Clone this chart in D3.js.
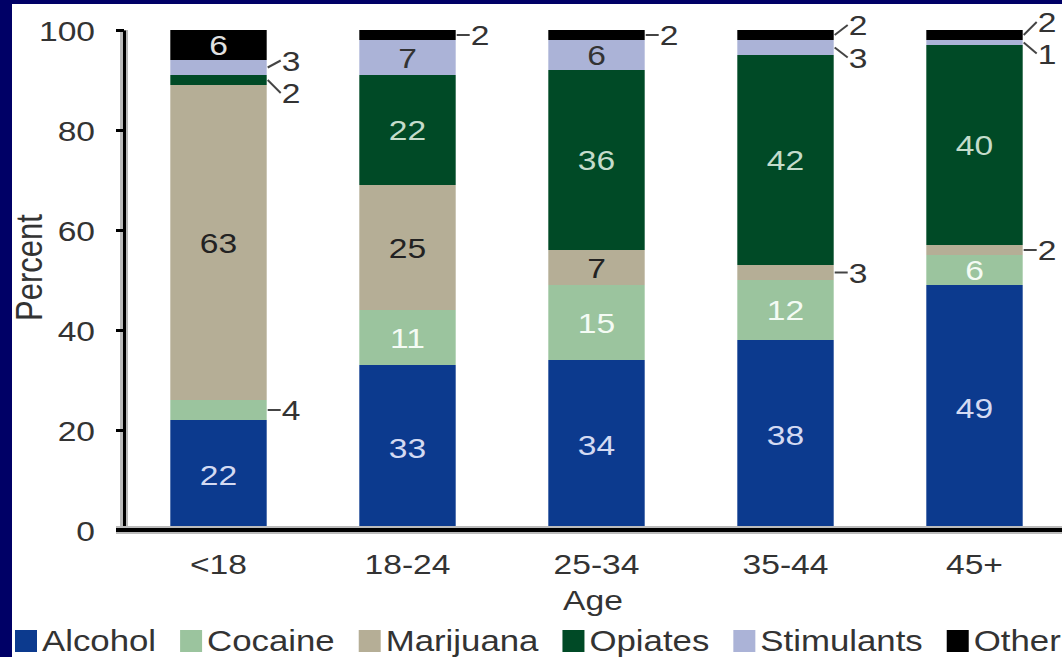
<!DOCTYPE html>
<html lang="en">
<head>
  <meta charset="UTF-8">
  <title>Treatment admissions by age</title>
  <style>
    html, body { margin: 0; padding: 0; background: #000066; }
    svg { display: block; font-family: "Liberation Sans", Arial, sans-serif; }
  </style>
</head>
<body>
  <svg id="chart" width="1062" height="657"></svg>
  <script src="https://d3js.org/d3.v7.min.js"></script>
  <script>
    // data (percent of admissions)
    var ages = ['<18', '18-24', '25-34', '35-44', '45+']
    var series = ['Alcohol', 'Cocaine', 'Marijuana', 'Opiates', 'Stimulants', 'Other']
    var alcohol    = [22, 33, 34, 38, 49]
    var cocaine    = [4, 11, 15, 12, 6]
    var marijuana  = [63, 25, 7, 3, 2]
    var opiates    = [2, 22, 36, 42, 40]
    var stimulants = [3, 7, 6, 3, 1]
    var other      = [6, 2, 2, 2, 2]
    var yTicks = [0, 20, 40, 60, 80, 100]

    var colors = {
      Alcohol: '#0c3a8e', Cocaine: '#9bc49e', Marijuana: '#b5ae96',
      Opiates: '#004a26', Stimulants: '#abb3d7', Other: '#000000'
    }
    var labelColors = {
      Alcohol: '#d4daf2', Cocaine: '#f4fbf4', Marijuana: '#222222',
      Opiates: '#c4dccb', Stimulants: '#333333', Other: '#e0e0e0'
    }
    // vertical nudge of the small call-out labels
    var nudge = {
      '<18|Stimulants': -7, '<18|Opiates': 13,
      '35-44|Other': -10, '35-44|Stimulants': 10,
      '45+|Other': -13, '45+|Stimulants': 11
    }

    var W = 1062, H = 657, SX = 1.2, FS = 28
    var svg = d3.select('#chart')

    svg.append('rect').attr('width', W).attr('height', H).attr('fill', '#000066')
    svg.append('rect').attr('x', 12).attr('y', 4).attr('width', W - 12).attr('height', H - 4).attr('fill', '#ffffff')

    var rows = ages.map(function (a, i) {
      return { age: a, Alcohol: alcohol[i], Cocaine: cocaine[i], Marijuana: marijuana[i],
        Opiates: opiates[i], Stimulants: stimulants[i], Other: other[i] }
    })
    var stacked = d3.stack().keys(series)(rows)

    var x = d3.scaleBand().domain(ages).range([124, 1069]).paddingInner(0.49).paddingOuter(0.245)
    var y = d3.scaleLinear().domain([0, 100]).range([530, 30])

    function sText (parent, tx, ty, str, fill, anchor, size) {
      return parent.append('g')
        .attr('transform', 'translate(' + tx + ',' + ty + ') scale(' + SX + ',1)')
        .append('text')
        .attr('text-anchor', anchor || 'middle')
        .attr('font-size', size || FS)
        .attr('fill', fill || '#333')
        .text(str)
    }

    // bars
    var layers = svg.append('g').selectAll('g.layer')
      .data(stacked).enter().append('g')
      .attr('class', 'layer')
      .attr('fill', function (d) { return colors[d.key] })
    layers.selectAll('rect')
      .data(function (d) { return d })
      .enter().append('rect')
      .attr('x', function (d) { return x(d.data.age) })
      .attr('width', x.bandwidth())
      .attr('y', function (d) { return y(d[1]) })
      .attr('height', function (d) { return y(d[0]) - y(d[1]) })

    // value labels
    var labelG = svg.append('g')
    stacked.forEach(function (layer) {
      layer.forEach(function (d) {
        var v = d[1] - d[0]
        var yc = (y(d[0]) + y(d[1])) / 2
        if (v >= 5) {
          sText(labelG, x(d.data.age) + x.bandwidth() / 2, yc, v, labelColors[layer.key])
            .attr('dy', '0.36em')
        } else {
          var xr = x(d.data.age) + x.bandwidth()
          var ly = yc + (nudge[d.data.age + '|' + layer.key] || 0)
          labelG.append('line')
            .attr('x1', xr + 1).attr('y1', yc)
            .attr('x2', xr + 14).attr('y2', ly)
            .attr('stroke', '#444').attr('stroke-width', 2)
          sText(labelG, xr + 15, ly, v, '#333', 'start').attr('dy', '0.36em')
        }
      })
    })

    // y axis
    var yAxis = d3.axisLeft(y).tickValues(yTicks).tickSize(8).tickSizeOuter(0).tickPadding(21)
    var yg = svg.append('g').attr('transform', 'translate(' + x.range()[0] + ',0)')
    yg.append('line').attr('x1', 0).attr('x2', 0).attr('y1', y(100)).attr('y2', y(0))
      .attr('stroke', '#bbbbbb').attr('stroke-width', 8)
    yg.call(yAxis)
    yg.select('.domain').attr('stroke', '#000').attr('stroke-width', 3)
    yg.selectAll('.tick line').attr('stroke', '#000').attr('stroke-width', 3)
    yg.selectAll('.tick text')
      .attr('font-size', FS).attr('fill', '#333')
      .attr('x', -29 / SX).attr('transform', 'scale(' + SX + ',1)')
      .attr('dy', '0.36em')

    // x axis
    var xAxis = d3.axisBottom(x).tickSize(0).tickPadding(24)
    var xg = svg.append('g').attr('transform', 'translate(0,' + y(0) + ')')
    xg.append('line').attr('x1', x.range()[0] - 8).attr('x2', W).attr('y1', 0).attr('y2', 0)
      .attr('stroke', '#bbbbbb').attr('stroke-width', 8)
    xg.append('line').attr('x1', x.range()[0] - 8).attr('x2', W).attr('y1', 0).attr('y2', 0)
      .attr('stroke', '#000').attr('stroke-width', 4)
    xg.call(xAxis)
    xg.select('.domain').remove()
    xg.selectAll('.tick text')
      .attr('font-size', FS).attr('fill', '#333')
      .attr('transform', 'scale(' + SX + ',1)')
      .each(function () { d3.select(this.parentNode).attr('transform', d3.select(this.parentNode).attr('transform')) })
    xg.selectAll('.tick').each(function (d) {
      d3.select(this).attr('transform', 'translate(' + (x(d) + x.bandwidth() / 2) + ',0)')
    })

    // axis titles
    sText(svg, (x.range()[0] + W) / 2, 610, 'Age', '#333')
    svg.append('text')
      .attr('transform', 'translate(42,' + y(52.5) + ') rotate(-90) scale(1,1.2)')
      .attr('text-anchor', 'middle')
      .attr('font-size', 31)
      .attr('fill', '#333')
      .text('Percent')

    // legend
    var lx = 15
    series.forEach(function (s) {
      svg.append('rect').attr('x', lx).attr('y', 630).attr('width', 22).attr('height', 22)
        .attr('fill', colors[s])
      var t = sText(svg, lx + 27, 651, s, '#333', 'start', 29)
      lx += 27 + t.node().getComputedTextLength() * SX + 24
    })
  </script>
</body>
</html>
